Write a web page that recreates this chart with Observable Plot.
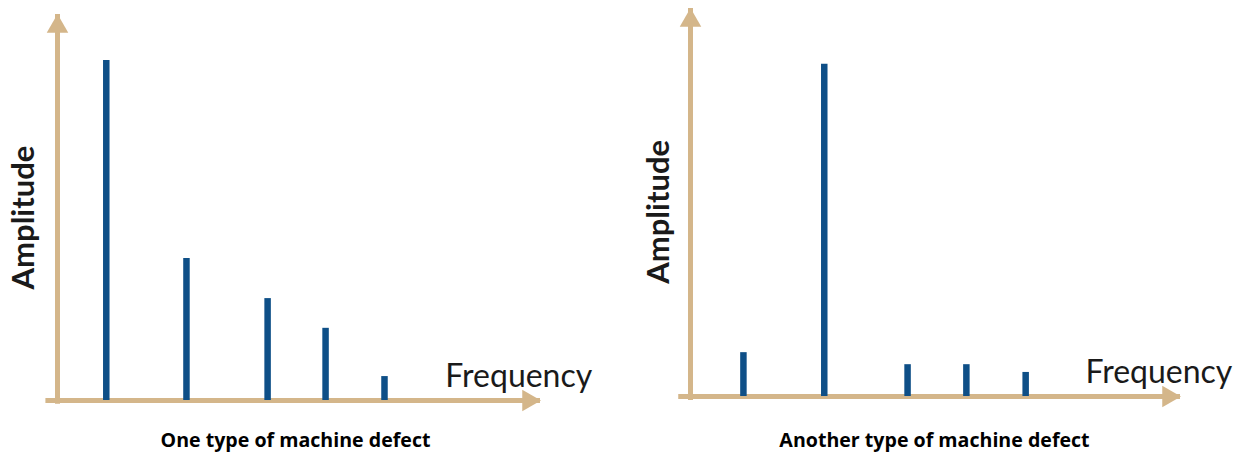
<!DOCTYPE html>
<html>
<head>
<meta charset="utf-8">
<script src="https://cdn.jsdelivr.net/npm/d3@7"></script>
<script src="https://cdn.jsdelivr.net/npm/@observablehq/plot@0.6"></script>
<style>
  html, body { margin: 0; padding: 0; background: #fff; }
  #wrap { display: flex; width: 1246px; }
  .panel { width: 623px; }
  .panel svg { display: block; }
  .cap { font-family: "Open Sans", sans-serif; font-weight: 700; font-size: 19.6px; color: #000;
         text-align: center; height: 32px; line-height: 40px; position: relative; }
</style>
</head>
<body>
<div id="wrap">
  <div class="panel" id="p1"><div class="cap" id="c1" style="left:-16px"></div></div>
  <div class="panel" id="p2"><div class="cap" id="c2"></div></div>
</div>
<script>
// ---- data ----
const captions = ["One type of machine defect", "Another type of machine defect"];
const xLabel = "Frequency";
const yLabel = "Amplitude";
// frequency positions (relative units 0..100 along the x axis) and amplitudes (0..100)
const freqA = [10.1, 26.7, 43.5, 55.5, 67.7];
const ampA  = [88.1, 36.8, 26.4, 18.7, 6.2];
const freqB = [10.8, 27.3, 44.3, 56.3, 68.4];
const ampB  = [11.3, 85.6, 8.2, 8.2, 6.2];

const axisColor = "#d4b68a";
const barColor = "#0e4f87";

function panel(freq, amp, m) {
  const data = freq.map((f, i) => ({f, a: amp[i]}));
  return Plot.plot({
    width: 623, height: 420,
    marginLeft: m.left, marginRight: m.right, marginTop: m.top, marginBottom: m.bottom,
    x: {domain: [0, 100], axis: null},
    y: {domain: [0, 100], axis: null},
    marks: [
      // axes
      Plot.ruleY([0], {x1: -2.4, x2: 100, stroke: axisColor, strokeWidth: 5}),
      Plot.ruleX([0], {y1: -1, y2: 100, stroke: axisColor, strokeWidth: 5}),
      Plot.dot([{x: 100, y: 0}], {x: "x", y: "y", symbol: "triangle", r: 8, rotate: 90, dx: -12, fill: axisColor, stroke: null}),
      Plot.dot([{x: 0, y: 100}], {x: "x", y: "y", symbol: "triangle", r: 8, dy: 12, fill: axisColor, stroke: null}),
      // bars (spectral lines)
      Plot.ruleX(data, {x: "f", y1: 0, y2: "a", stroke: barColor, strokeWidth: 6.5}),
      // labels
      Plot.text([xLabel], {x: m.fx, y: 3.4, text: d => d, textAnchor: "start", lineAnchor: "bottom",
        fontSize: 32, fontFamily: "Lato, sans-serif", fill: "#1a1a1a"}),
      Plot.text([yLabel], {x: m.ax, y: m.ay, text: d => d, rotate: -90, textAnchor: "middle", lineAnchor: "middle",
        fontSize: 31, fontWeight: 700, fontFamily: "Lato, sans-serif", fill: "#1a1a1a"})
    ]
  });
}

const svg1 = panel(freqA, ampA, {left: 57, right: 83, top: 14, bottom: 20, fx: 80.3, ax: -7.0, ay: 47.4});
const svg2 = panel(freqB, ampB, {left: 67, right: 66, top: 8, bottom: 24, fx: 80.6, ax: -6.5, ay: 47.6});
const p1 = document.getElementById("p1"), p2 = document.getElementById("p2");
p1.insertBefore(svg1, p1.firstChild);
p2.insertBefore(svg2, p2.firstChild);
document.getElementById("c1").textContent = captions[0];
document.getElementById("c2").textContent = captions[1];
</script>
</body>
</html>
